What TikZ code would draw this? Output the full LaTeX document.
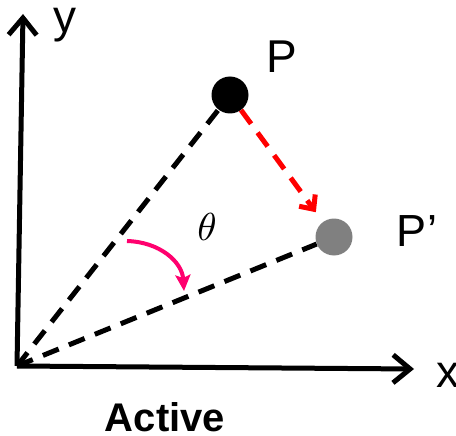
\documentclass[tikz,border=0pt]{standalone}
\usepackage{fontspec}
\setmainfont{Liberation Sans}
\usetikzlibrary{arrows.meta}
\definecolor{magentaarc}{RGB}{255,0,110}
\definecolor{dotgray}{RGB}{128,128,128}
\tikzset{
  axis/.style={line width=5pt, -{Straight Barb[length=17pt,width=28pt]}},
  dashline/.style={line width=5pt, dash pattern=on 17pt off 11pt},
  movearrow/.style={line width=5pt, red, dash pattern=on 17pt off 11pt, -{Straight Barb[length=11pt,width=20pt]}},
  rotarrow/.style={line width=4pt, magentaarc, -{Stealth[length=16pt,width=15pt,inset=3pt]}},
  dot/.style={circle, minimum size=37pt, inner sep=0pt},
  lbl/.style={inner sep=0pt, font=\fontsize{46}{50}\selectfont},
}
\begin{document}
\begin{tikzpicture}[x=1pt,y=-1pt]
\useasboundingbox (0,0) rectangle (456,436);
\coordinate (O) at (17,366);
\coordinate (Xtip) at (414,369);
\coordinate (Ytip) at (23,14);
\node[dot, fill=black] (P) at (230,95) {};
\node[dot, fill=dotgray] (Pp) at (334,237) {};
\draw[dashline] (O) -- (P);
\draw[dashline] (O) -- (Pp);
\draw[axis] (O) -- (Xtip);
\draw[axis] (O) -- (Ytip);
\draw[movearrow, shorten >=12pt] (P) -- (Pp);
\coordinate (A1) at (127,241);
\coordinate (A2) at (184,291);
\draw[rotarrow] (A1) .. controls (160,242) and (182,262) .. (A2);
\node[lbl] (ylbl) at (65,25) {y};
\node[lbl] (xlbl) at (448,375) {x};
\node[lbl] (Plbl) at (282,57) {P};
\node[lbl, font=\fontsize{45}{50}\selectfont] (Pplbl) at (417,231) {P’};
\node[inner sep=0pt, scale=3.9] (theta) at (207,227) {$\theta$};
\node[inner sep=0pt, font=\fontsize{40}{44}\selectfont\bfseries] (active) at (165,417) {Active};
\end{tikzpicture}
\end{document}
